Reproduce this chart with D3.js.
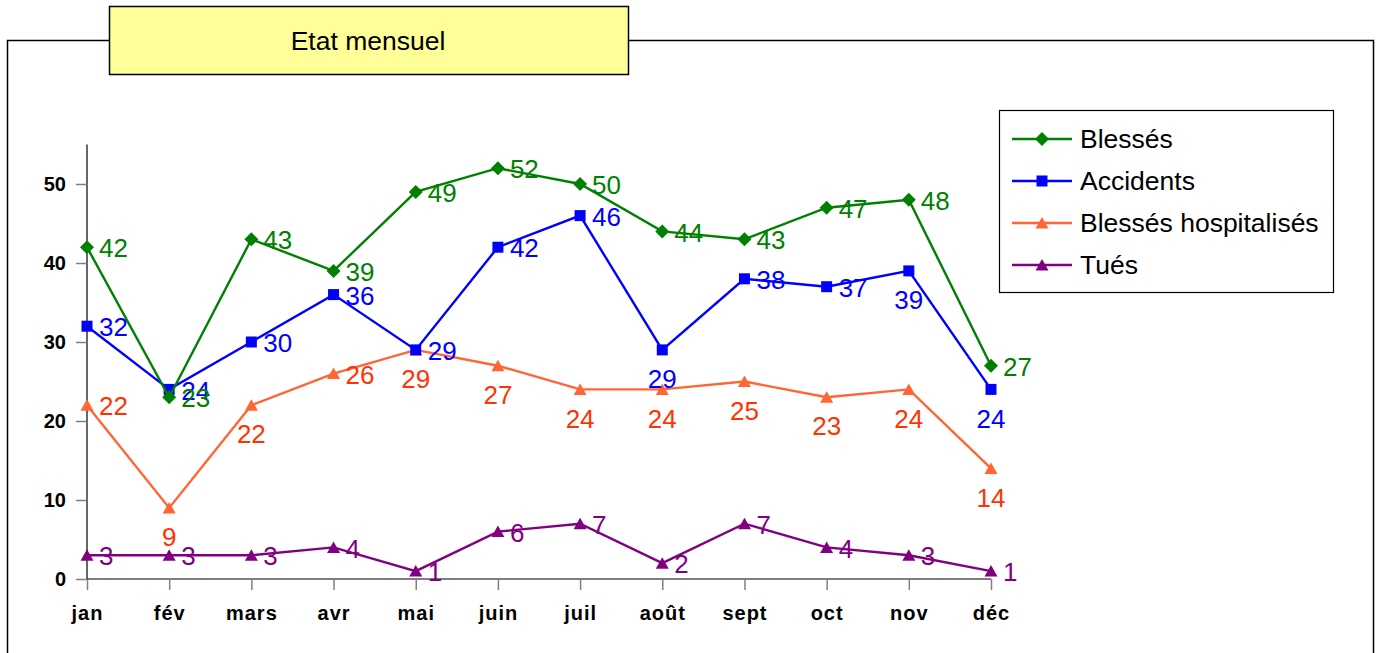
<!DOCTYPE html>
<html><head><meta charset="utf-8">
<script src="https://cdn.jsdelivr.net/npm/d3@7"></script>
<style>
html,body{margin:0;padding:0;background:#fff;}
svg{display:block;font-family:"Liberation Sans",Arial,sans-serif;}
</style></head>
<body>
<svg id="c" width="1380" height="653"></svg>
<script>
const months = ["jan","fév","mars","avr","mai","juin","juil","août","sept","oct","nov","déc"];
const seriesNames = ["Blessés","Accidents","Blessés hospitalisés","Tués"];
const blesses = [42,23,43,39,49,52,50,44,43,47,48,27];
const accidents = [32,24,30,36,29,42,46,29,38,37,39,24];
const hospitalises = [22,9,22,26,29,27,24,24,25,23,24,14];
const tues = [3,3,3,4,1,6,7,2,7,4,3,1];
const yTicks = [0,10,20,30,40,50];
// label placement: r = right, b = below
const labelPlacement = [
  "rrrrrrrrrrrr",
  "rrrrrrrbrrbb",
  "rbbrbbbbbbbb",
  "rrrrrrrrrrrr"
];

const svg = d3.select("#c");
const styles = [
  {line:"#008000", text:"#008000", marker:"diamond"},
  {line:"#0000FF", text:"#0000FF", marker:"square"},
  {line:"#FF6633", text:"#FF3300", marker:"triangle"},
  {line:"#800080", text:"#800080", marker:"triangle"}
];
const allSeries = [blesses, accidents, hospitalises, tues];

// outer frame
svg.append("rect").attr("x",7.5).attr("y",40.5).attr("width",1366).attr("height",700)
  .attr("fill","none").attr("stroke","#000").attr("stroke-width",1.5);

// title box
svg.append("rect").attr("x",109.5).attr("y",6.5).attr("width",519).attr("height",68)
  .attr("fill","#FFFF99").attr("stroke","#000").attr("stroke-width",1.5);
svg.append("text").attr("x",368).attr("y",41).attr("dy","0.35em").attr("text-anchor","middle")
  .attr("font-size",26.5).text("Etat mensuel");

const x = d3.scalePoint().domain(months).range([87, 991]);
const y = d3.scaleLinear().domain([0,55]).range([579, 144.5]);

// Y axis
const yAxis = svg.append("g").attr("transform","translate(87,0)")
  .call(d3.axisLeft(y).tickValues(yTicks).tickSize(11).tickPadding(10).tickFormat(d3.format("d")));
yAxis.select(".domain").attr("stroke","#000").attr("stroke-width",1.2).attr("d","M0,144.5V579");
yAxis.selectAll(".tick line").attr("stroke","#808080").attr("stroke-width",1.5);
yAxis.selectAll("text").attr("font-size",20).attr("font-weight","bold").attr("fill","#000")
  .attr("font-family","'Liberation Sans',Arial,sans-serif");

// X axis
const xAxis = svg.append("g").attr("transform","translate(0,579)")
  .call(d3.axisBottom(x).tickSize(11).tickPadding(16));
xAxis.select(".domain").attr("stroke","#000").attr("stroke-width",1.2).attr("d","M87,0H991");
xAxis.selectAll(".tick line").attr("stroke","#808080").attr("stroke-width",1.5);
xAxis.selectAll("text").attr("font-size",20).attr("font-weight","bold").attr("fill","#000")
  .attr("letter-spacing","1px")
  .attr("font-family","'Liberation Sans',Arial,sans-serif");

function markerPath(type, cx, cy){
  if(type==="diamond"){const r=7;return `M${cx},${cy-r}L${cx+r},${cy}L${cx},${cy+r}L${cx-r},${cy}Z`;}
  if(type==="square"){const r=5.5;return `M${cx-r},${cy-r}h${2*r}v${2*r}h${-2*r}Z`;}
  const w=6.5,h=6;return `M${cx},${cy-h}L${cx+w},${cy+h-0.5}L${cx-w},${cy+h-0.5}Z`;
}

const line = d3.line().x((d,i)=>x(months[i])).y(d=>y(d));

// draw series in reverse so Blessés on top
[3,2,1,0].forEach(si=>{
  const data = allSeries[si], st = styles[si];
  const g = svg.append("g");
  g.append("path").datum(data).attr("d",line).attr("fill","none")
    .attr("stroke",st.line).attr("stroke-width",2.4);
  g.selectAll("path.m").data(data).join("path").attr("class","m")
    .attr("d",(d,i)=>markerPath(st.marker,x(months[i]),y(d))).attr("fill",st.line);
});
[3,2,1,0].forEach(si=>{
  const data = allSeries[si], st = styles[si];
  svg.append("g").selectAll("text").data(data).join("text")
    .attr("x",(d,i)=> labelPlacement[si][i]==="b" ? x(months[i]) : x(months[i])+12)
    .attr("y",(d,i)=> labelPlacement[si][i]==="b" ? y(d)+29 : y(d)+1)
    .attr("dy","0.35em")
    .attr("text-anchor",(d,i)=> labelPlacement[si][i]==="b" ? "middle":"start")
    .attr("font-size",26).attr("fill",st.text).text(d=>d);
});

// legend
const lg = svg.append("g");
lg.append("rect").attr("x",999.5).attr("y",110.5).attr("width",334).attr("height",182)
  .attr("fill","#fff").attr("stroke","#000").attr("stroke-width",1.2);
seriesNames.forEach((name,i)=>{
  const ly = 139 + i*42, st = styles[i];
  lg.append("line").attr("x1",1012).attr("x2",1072).attr("y1",ly).attr("y2",ly)
    .attr("stroke",st.line).attr("stroke-width",2.4);
  lg.append("path").attr("d",markerPath(st.marker,1042,ly)).attr("fill",st.line);
  lg.append("text").attr("x",1080).attr("y",ly).attr("dy","0.35em").attr("font-size",26.5)
    .attr("fill","#000").text(name);
});
</script>
</body></html>
